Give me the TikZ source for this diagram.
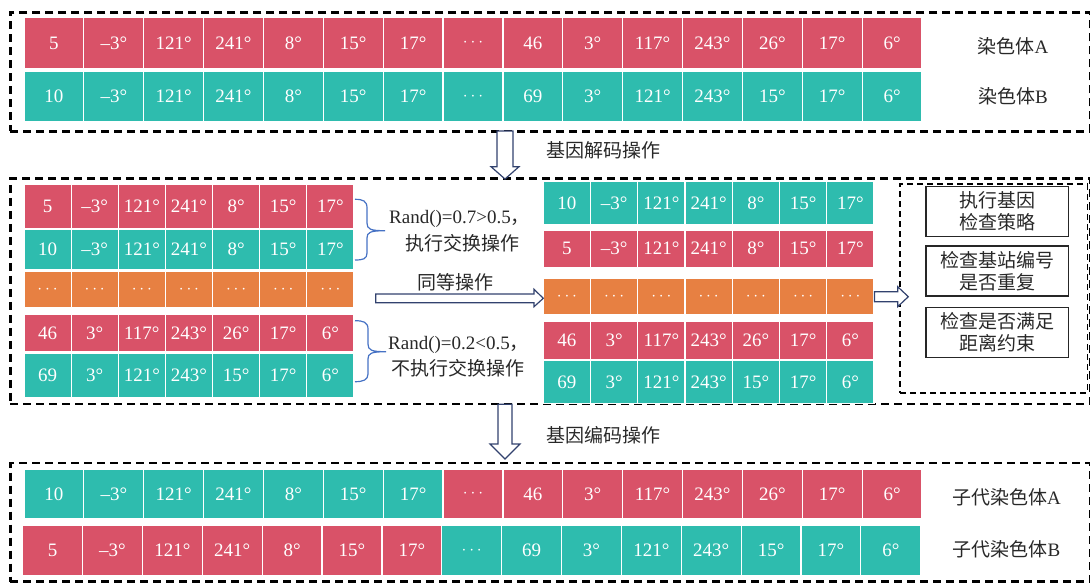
\documentclass[tikz,border=0pt]{standalone}
\usepackage{fontspec}
\setmainfont{Liberation Serif}
\newfontfamily\cjk{Noto Sans CJK SC}
\usetikzlibrary{calc}
\definecolor{cred}{RGB}{217,82,104}
\definecolor{cteal}{RGB}{46,188,174}
\definecolor{corange}{RGB}{231,128,66}
\definecolor{arrowc}{RGB}{50,66,110}
\definecolor{bracec}{RGB}{70,114,196}
\definecolor{labelc}{RGB}{40,40,40}
\newcommand\dd{$\cdots$}
\tikzset{
 cell/.style={draw=white, line width=1.2pt, text=white, inner sep=0pt, font=\fontsize{19}{22}\selectfont},
 outerbox/.style={draw=black, line width=2.6pt, dash pattern=on 8pt off 5pt, inner sep=0pt},
 innerbox/.style={draw=black, line width=1.8pt, dash pattern=on 6pt off 4pt, inner sep=0pt},
 checkbox/.style={draw=black!85, line width=1.3pt, align=center, font=\cjk\fontsize{19}{22}\selectfont, inner sep=0pt, text=labelc},
 lab/.style={text=labelc, font=\fontsize{19}{22}\selectfont, inner sep=0pt},
 hollow/.style={draw=arrowc, fill=white, line width=1.2pt, line join=miter},
 bracestyle/.style={draw=bracec, line width=1.2pt},
}
% #1 name, #2 x0, #3 ytop, #4 ybottom, #5 cell width, #6 list value/colour
\newcommand\generow[6]{%
 \foreach \vv/\cc [count=\i] in {#6} {
   \node[cell, fill=\cc, minimum width=#5pt, minimum height={(#4-#3)*1pt}] (#1-\i) at ({#2+(\i-0.5)*#5}, {(#3+#4)/2}) {\vv};
 }}
\begin{document}
\begin{tikzpicture}[x=1pt,y=-1pt]
\useasboundingbox (0,0) rectangle (1090,582);
% outer dashed boxes
\node[outerbox, anchor=north west, minimum width=1080pt, minimum height=119pt] (topbox) at (9,11) {};
\node[outerbox, anchor=north west, minimum width=1080pt, minimum height=225.5pt] (midbox) at (9,177) {};
\node[outerbox, anchor=north west, minimum width=1080pt, minimum height=118.5pt] (botbox) at (9,461.7) {};
\node[innerbox, anchor=north west, minimum width=187.2pt, minimum height=208.4pt] (chkbox) at (899.3,183.3) {};
% top chromosomes
\generow{ta}{24}{17.7}{68.3}{59.87}{5/cred,–3°/cred,121°/cred,241°/cred,8°/cred,15°/cred,17°/cred,\dd/cred,46/cred,3°/cred,117°/cred,243°/cred,26°/cred,17°/cred,6°/cred}
\generow{tb}{24}{71}{122}{59.87}{10/cteal,–3°/cteal,121°/cteal,241°/cteal,8°/cteal,15°/cteal,17°/cteal,\dd/cteal,69/cteal,3°/cteal,121°/cteal,243°/cteal,15°/cteal,17°/cteal,6°/cteal}
\node[lab] (labA) at (1013,46.7) {{\cjk 染色体}A};
\node[lab] (labB) at (1013,96.7) {{\cjk 染色体}B};
% middle left block
\generow{l1}{24}{184.3}{228.5}{47.14}{5/cred,–3°/cred,121°/cred,241°/cred,8°/cred,15°/cred,17°/cred}
\generow{l2}{24}{229.5}{269.4}{47.14}{10/cteal,–3°/cteal,121°/cteal,241°/cteal,8°/cteal,15°/cteal,17°/cteal}
\generow{l3}{24}{271.4}{308}{47.14}{\dd/corange,\dd/corange,\dd/corange,\dd/corange,\dd/corange,\dd/corange,\dd/corange}
\generow{l4}{24}{314}{351.9}{47.14}{46/cred,3°/cred,117°/cred,243°/cred,26°/cred,17°/cred,6°/cred}
\generow{l5}{24}{353.6}{397.3}{47.14}{69/cteal,3°/cteal,121°/cteal,243°/cteal,15°/cteal,17°/cteal,6°/cteal}
% middle right block
\generow{r1}{543.3}{181.7}{225}{47.24}{10/cteal,–3°/cteal,121°/cteal,241°/cteal,8°/cteal,15°/cteal,17°/cteal}
\generow{r2}{543.3}{230}{267.3}{47.24}{5/cred,–3°/cred,121°/cred,241°/cred,8°/cred,15°/cred,17°/cred}
\generow{r3}{543.3}{278.3}{314.3}{47.24}{\dd/corange,\dd/corange,\dd/corange,\dd/corange,\dd/corange,\dd/corange,\dd/corange}
\generow{r4}{543.3}{321.7}{359.3}{47.24}{46/cred,3°/cred,117°/cred,243°/cred,26°/cred,17°/cred,6°/cred}
\generow{r5}{543.3}{360.7}{403.3}{47.24}{69/cteal,3°/cteal,121°/cteal,243°/cteal,15°/cteal,17°/cteal,6°/cteal}
% braces and texts
\draw[bracestyle] (355,199.3) .. controls (363,199.3) and (367,201) .. (367,208) -- (367,223) .. controls (367,229) and (370,230.7) .. (385,230.7)
  .. controls (370,230.7) and (367,232.4) .. (367,238) -- (367,253) .. controls (367,259) and (363,260) .. (355,260);
\draw[bracestyle] (355,320.7) .. controls (363,320.7) and (368,322) .. (368,329) -- (368,344) .. controls (368,350) and (371,351.7) .. (386,351.7)
  .. controls (371,351.7) and (368,353.4) .. (368,359) -- (368,374) .. controls (368,380) and (363,381.7) .. (355,381.7);
\node[lab, anchor=west] (rand1) at (389,219.3) {Rand()=0.7>0.5{\cjk ，}};
\node[lab, anchor=west] (exe1) at (405,243.3) {\cjk 执行交换操作};
\node[lab, anchor=west] (rand2) at (388,345) {Rand()=0.2<0.5{\cjk ，}};
\node[lab, anchor=west] (exe2) at (391,368.3) {\cjk 不执行交换操作};
\node[lab] (same) at (455,282.7) {\cjk 同等操作};
% check boxes
\node[checkbox, minimum width=142.3pt, minimum height=50pt] (c1) at (997,211.7) {执行基因\\检查策略};
\node[checkbox, minimum width=142.3pt, minimum height=50pt] (c2) at (997,271) {检查基站编号\\是否重复};
\node[checkbox, minimum width=142.3pt, minimum height=50pt] (c3) at (997,332.7) {检查是否满足\\距离约束};
% bottom chromosomes
\generow{ba}{24}{469.3}{518.3}{59.87}{10/cteal,–3°/cteal,121°/cteal,241°/cteal,8°/cteal,15°/cteal,17°/cteal,\dd/cred,46/cred,3°/cred,117°/cred,243°/cred,26°/cred,17°/cred,6°/cred}
\generow{bb}{22.7}{525}{576}{59.87}{5/cred,–3°/cred,121°/cred,241°/cred,8°/cred,15°/cred,17°/cred,\dd/cteal,69/cteal,3°/cteal,121°/cteal,243°/cteal,15°/cteal,17°/cteal,6°/cteal}
\node[lab] (labCA) at (1006.5,497.5) {{\cjk 子代染色体}A};
\node[lab] (labCB) at (1006.5,549) {{\cjk 子代染色体}B};
% hollow arrows
\draw[hollow] (497,131) -- (513,131) -- (513,166.7) -- (519,166.7) -- (505,179) -- (491,166.7) -- (497,166.7) -- cycle;
\node[lab, anchor=west] (dec) at (546,150) {\cjk 基因解码操作};
\draw[hollow] (498,404.3) -- (512,404.3) -- (512,444) -- (520,444) -- (505,459) -- (490,444) -- (498,444) -- cycle;
\node[lab, anchor=west] (enc) at (546,435) {\cjk 基因编码操作};
\draw[hollow] (375.7,294) -- (534,294) -- (534,289.3) -- (543.3,298.3) -- (534,306.7) -- (534,302.7) -- (375.7,302.7) -- cycle;
\draw[hollow] (r3-7.east |- 0,291.7) -- (897.7,291.7) -- (897.7,286.7) -- (908.3,296.7) -- (897.7,306.7) -- (897.7,301.7) -- (r3-7.east |- 0,301.7) -- cycle;
\end{tikzpicture}
\end{document}
